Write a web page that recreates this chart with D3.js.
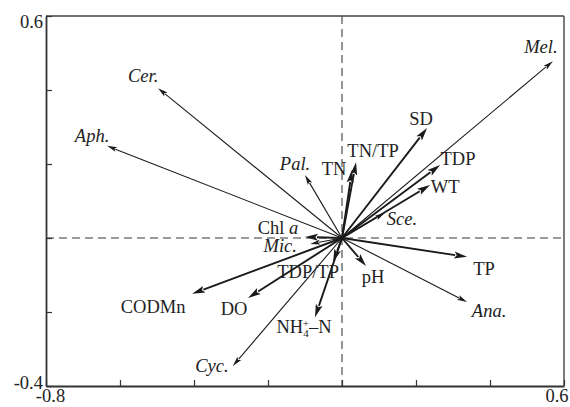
<!DOCTYPE html>
<html><head><meta charset="utf-8">
<script src="https://cdn.jsdelivr.net/npm/d3@7"></script>
<style>
html,body{margin:0;padding:0;background:#fff;}
svg text{font-family:"Liberation Serif","Times New Roman",serif;fill:#222;}
</style></head>
<body><svg id="c" width="570" height="407"></svg>
<script>
// ---- data ----
const envNames = ["TN","TN/TP","SD","TDP","WT","TP","pH","TDP/TP","Chl a","NH4-N","DO","CODMn"];
const envX =     [0.027, 0.038, 0.230, 0.265, 0.238, 0.338, 0.065, -0.024, -0.100, -0.073, -0.254, -0.405];
const envY =     [0.184, 0.205, 0.297, 0.197, 0.143, -0.051, -0.076, -0.065, 0.003, -0.214, -0.162, -0.151];
const spNames = ["Mel.","Cer.","Aph.","Pal.","Sce.","Ana.","Mic.","Cyc."];
const spX =     [0.570, -0.497, -0.635, -0.100, 0.116, 0.338, -0.086, -0.295];
const spY =     [0.478, 0.405, 0.249, 0.170, 0.068, -0.173, -0.016, -0.346];
const xTicks = [-0.8,-0.6,-0.4,-0.2,0,0.2,0.4,0.6];
const yTicks = [-0.4,-0.2,0,0.2,0.4,0.6];
const xLabelled = [-0.8, 0.6];
const yLabelled = [-0.4, 0.6];

// ---- label placement (pixel offsets from arrow tip: centre x, baseline y) ----
const labelOff = {
  "Mel.":[-12,-8],"Cer.":[-15,-6],"Aph.":[-15,-4],"Pal.":[-10,-5],"Sce.":[17,12],
  "Ana.":[22,15],"Mic.":[-30,8],"Cyc.":[-21,6],
  "TN":[-18,5],"TN/TP":[17,-5],"SD":[-6,-3],"TDP":[18,0],"WT":[15,8],"TP":[17,18],
  "pH":[7,17],"TDP/TP":[-25,16],"Chl a":[-27,-3],"NH4-N":[-11,16],"DO":[-14,17],"CODMn":[-39,19]
};

const svg = d3.select("#c");
const L=46,R=564,T=16,B=386;
const x = d3.scaleLinear().domain([-0.8,0.6]).range([L,R]);
const y = d3.scaleLinear().domain([-0.4,0.6]).range([B,T]);

// dashed zero lines
svg.append("line").attr("x1",x(0)).attr("x2",x(0)).attr("y1",T).attr("y2",B)
  .attr("stroke","#7a7a7a").attr("stroke-width",1.6).attr("stroke-dasharray","8,5");
svg.append("line").attr("x1",L).attr("x2",R).attr("y1",y(0)).attr("y2",y(0))
  .attr("stroke","#7a7a7a").attr("stroke-width",1.6).attr("stroke-dasharray","8,5");

// frame top/right
svg.append("line").attr("x1",L).attr("x2",R).attr("y1",T).attr("y2",T).attr("stroke","#444").attr("stroke-width",1.4);
svg.append("line").attr("x1",R).attr("x2",R).attr("y1",T).attr("y2",B).attr("stroke","#444").attr("stroke-width",1.4);

// axes
const fmtX = d => xLabelled.includes(d) ? String(d) : "";
const fmtY = d => yLabelled.includes(d) ? String(d) : "";
const gx = svg.append("g").attr("transform",`translate(0,${B})`)
  .call(d3.axisBottom(x).tickValues(xTicks).tickSizeInner(-6).tickSizeOuter(0).tickPadding(3).tickFormat(fmtX));
const gy = svg.append("g").attr("transform",`translate(${L},0)`)
  .call(d3.axisLeft(y).tickValues(yTicks).tickSizeInner(-6).tickSizeOuter(0).tickPadding(3).tickFormat(fmtY));
[gx,gy].forEach(g=>{
  g.select(".domain").attr("stroke","#333").attr("stroke-width",1.8);
  g.selectAll(".tick line").attr("stroke","#333").attr("stroke-width",1.2);
  g.selectAll("text").style("font-family","'Liberation Serif','Times New Roman',serif").attr("font-size",18.5).attr("fill","#222");
});
gx.selectAll(".tick text").attr("dy","0.7em");
gy.selectAll(".tick text").attr("dy","0.35em");
// nudge corner labels like the reference
gx.selectAll(".tick").filter(d=>d===0.6).select("text").attr("text-anchor","end").attr("dx",4);
gx.selectAll(".tick").filter(d=>d===-0.8).select("text").attr("dx",4);
gy.selectAll(".tick").filter(d=>d===0.6).select("text").attr("dy","0.6em");
gy.selectAll(".tick").filter(d=>d===-0.4).select("text").attr("dy","0.15em");

// arrows
function arrow(g, x2, y2, lw, hl, hw){
  const x1=x(0), y1=y(0);
  const dx=x2-x1, dy=y2-y1, len=Math.hypot(dx,dy);
  const ux=dx/len, uy=dy/len;
  const bx=x2-ux*hl, by=y2-uy*hl;
  g.append("line").attr("x1",x1).attr("y1",y1).attr("x2",bx+ux*1).attr("y2",by+uy*1)
    .attr("stroke","#1a1a1a").attr("stroke-width",lw);
  g.append("path").attr("d",`M${x2},${y2}L${bx-uy*hw/2},${by+ux*hw/2}L${bx+ux*hl*0.2},${by+uy*hl*0.2}L${bx+uy*hw/2},${by-ux*hw/2}Z`)
    .attr("fill","#1a1a1a");
}
const ga = svg.append("g");
spNames.forEach((n,i)=>arrow(ga, x(spX[i]), y(spY[i]), 1.1, 10, 5));
envNames.forEach((n,i)=>arrow(ga, x(envX[i]), y(envY[i]), 1.9, 13, 7));

// labels
const gl = svg.append("g").attr("font-size",18.5).attr("text-anchor","middle");
spNames.forEach((n,i)=>{
  const o=labelOff[n];
  gl.append("text").attr("x",x(spX[i])+o[0]).attr("y",y(spY[i])+o[1]).attr("font-style","italic").text(n);
});
envNames.forEach((n,i)=>{
  const o=labelOff[n];
  const t=gl.append("text").attr("x",x(envX[i])+o[0]).attr("y",y(envY[i])+o[1]);
  if(n==="Chl a"){ t.append("tspan").text("Chl "); t.append("tspan").attr("font-style","italic").text("a"); }
  else if(n==="NH4-N"){
    t.append("tspan").text("NH");
    t.append("tspan").attr("font-size",11).attr("dy",4).text("4");
    t.append("tspan").attr("font-size",11).attr("dx",-6).attr("dy",-10).text("+");
    t.append("tspan").attr("dy",6).text("\u2013N");
  }
  else t.text(n);
});
</script></body></html>
